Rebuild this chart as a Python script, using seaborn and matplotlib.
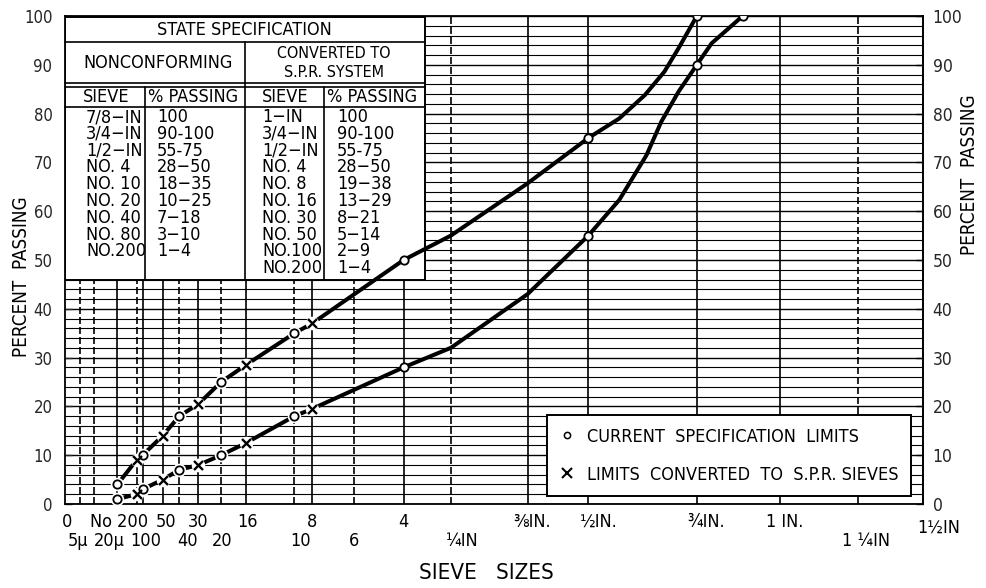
import numpy as np
import pandas as pd
import matplotlib
matplotlib.use("Agg")
import matplotlib.pyplot as plt
import seaborn as sns
from matplotlib import font_manager as fm
from matplotlib.lines import Line2D
from matplotlib.patches import Rectangle
from matplotlib.ticker import MultipleLocator, NullLocator

# ---------------- data ----------------
# sieve openings in mm; chart x-axis is a 0.45-power scale
solid_sieves_mm = [0.075, 0.18, 0.3, 0.6, 1.18, 2.36, 4.75, 9.5, 12.5, 19.0, 25.0]
dashed_sieves_mm = [0.005, 0.02, 0.15, 0.425, 0.85, 2.0, 3.35, 6.35, 31.5]

row1_pos_mm = [0, 0.075, 0.3, 0.6, 1.18, 2.36, 4.75, 9.5, 12.5, 19.0, 25.0, 37.5]
row1_labels = ["0", "No 200", "50", "30", "16", "8", "4", "⅜IN.", "½IN.", "¾IN.", "1 IN.", "1½IN"]
row2_pos_mm = [0.005, 0.02, 0.15, 0.425, 0.85, 2.0, 3.35, 6.35, 31.5]
row2_labels = ["5μ", "20μ", "100", "40", "20", "10", "6", "¼IN", "1 ¼IN"]

# current specification limits (circles)
cur_upper_mm = [0.075, 0.18, 0.425, 0.85, 2.0, 4.75, 12.5, 19.0]
cur_upper = [4, 10, 18, 25, 35, 50, 75, 100]
cur_lower_mm = [0.075, 0.18, 0.425, 0.85, 2.0, 4.75, 12.5, 19.0, 22.2]
cur_lower = [1, 3, 7, 10, 18, 28, 55, 90, 100]

# limits converted to S.P.R. sieves (X marks)
spr_mm = [0.15, 0.3, 0.6, 1.18, 2.36]
spr_upper = [9, 14, 20.5, 28.5, 37]
spr_lower = [2, 5, 8, 12.5, 19.5]

# further points along the drawn curves
trace_upper_mm = [6.35, 9.5, 14.2, 15.7, 16.9, 17.8]
trace_upper = [55, 65.7, 79, 83.8, 88.6, 93.4]
trace_lower_mm = [6.35, 9.5, 14.2, 15.8, 16.7, 17.8, 20.0]
trace_lower = [32, 43, 62.3, 71.5, 78.3, 84.5, 94.4]

# table text
table_title = "STATE SPECIFICATION"
group_left = "NONCONFORMING"
group_right = ["CONVERTED TO", "S.P.R. SYSTEM"]
col_headers = ["SIEVE", "% PASSING", "SIEVE", "% PASSING"]
nc_sieves = ["7/8−IN", "3/4−IN", "1/2−IN", "NO. 4", "NO. 10", "NO. 20", "NO. 40", "NO. 80", "NO.200"]
nc_passing = ["100", "90-100", "55-75", "28−50", "18−35", "10−25", "7−18", "3−10", "1−4"]
spr_sieves = ["1−IN", "3/4−IN", "1/2−IN", "NO. 4", "NO. 8", "NO. 16", "NO. 30", "NO. 50", "NO.100", "NO.200"]
spr_passing = ["100", "90-100", "55-75", "28−50", "19−38", "13−29", "8−21", "5−14", "2−9", "1−4"]

legend_labels = ["CURRENT  SPECIFICATION  LIMITS", "LIMITS  CONVERTED  TO  S.P.R. SIEVES"]
x_title = "SIEVE   SIZES"
y_title = "PERCENT  PASSING"

# ---------------- style / fonts ----------------
sns.set_style("white")
ttf = fm.fontManager.ttflist
names = {f.name for f in ttf}
stretch = "normal"
if "Liberation Sans Narrow" in names:
    FONT, k = "Liberation Sans Narrow", 1.0
elif any(f.name == "DejaVu Sans" and "condensed" in str(f.stretch) for f in ttf):
    FONT, k, stretch = "DejaVu Sans", 1.0, "condensed"
else:
    FONT, k = "DejaVu Sans", 0.85
plt.rcParams["font.family"] = [FONT, "DejaVu Sans"]
plt.rcParams["font.stretch"] = stretch
plt.rcParams["text.color"] = "black"

W, H = 987, 588
L, R, B, T = 65, 923, 504, 16
fig = plt.figure(figsize=(W / 100, H / 100), dpi=100)
ax = fig.add_axes([L / W, 1 - B / H, (R - L) / W, (B - T) / H])


def fwd(x):
    return np.power(np.clip(x, 0, None), 0.45)


def inv(u):
    return np.power(np.clip(u, 0, None), 1 / 0.45)


ax.set_xscale("function", functions=(fwd, inv))
ax.set_xlim(0, 37.5)
ax.set_ylim(0, 100)
ax.set_xticks([])
ax.xaxis.set_minor_locator(NullLocator())
ax.yaxis.set_major_locator(MultipleLocator(10))
ax.yaxis.set_minor_locator(MultipleLocator(2))
ax.set_axisbelow(True)
ax.grid(axis="y", which="major", color="black", lw=1.0)
ax.grid(axis="y", which="minor", color="black", lw=0.8)
ax.tick_params(axis="y", which="major", direction="in", length=5, width=1,
               pad=9, labelsize=12 * k, left=True, right=False)
ax.tick_params(axis="y", which="minor", length=0)
for sp in ax.spines.values():
    sp.set_visible(True)
    sp.set_color("black")
    sp.set_linewidth(1.3)

sec = ax.secondary_yaxis("right")
sec.set_yticks(list(range(0, 101, 10)))
sec.tick_params(direction="in", length=5, width=1, pad=7, labelsize=12.5 * k)
sec.spines["right"].set_linewidth(1.3)

for x in solid_sieves_mm:
    ax.axvline(x, color="black", lw=1.2, zorder=1.5)
for x in dashed_sieves_mm:
    ax.axvline(x, color="black", lw=1.2, ls=(0, (4.2, 1.8)), zorder=1.5)


# ---------------- table ----------------
def P(px, py):
    return ((px - L) / (R - L), (B - py) / (B - T))


def hline(py, x0, x1, lw=1.2):
    a, b = P(x0, py), P(x1, py)
    ax.plot([a[0], b[0]], [a[1], b[1]], color="black", lw=lw,
            transform=ax.transAxes, zorder=2.6, clip_on=False)


def vline(px, y0, y1, lw=1.2):
    a, b = P(px, y0), P(px, y1)
    ax.plot([a[0], b[0]], [a[1], b[1]], color="black", lw=lw,
            transform=ax.transAxes, zorder=2.6, clip_on=False)


def txt(px, py, s, ha="center", size=13):
    ax.text(*P(px, py), s, ha=ha, va="center", fontsize=size * k,
            transform=ax.transAxes, zorder=2.7)


tx0, tx1, ty0, ty1 = 65, 425, 17, 280
x0, y0 = P(tx0, ty1)
x1, y1 = P(tx1, ty0)
ax.add_patch(Rectangle((x0, y0), x1 - x0, y1 - y0, transform=ax.transAxes,
                       facecolor="white", edgecolor="black", lw=1.4, zorder=2.5))
hline(42, tx0, tx1)
hline(83, tx0, tx1)
hline(87, tx0, tx1)
hline(107, tx0, tx1)
vline(245, 42, ty1)
vline(145, 87, ty1)
vline(324, 87, ty1)

txt(244, 30, table_title)
txt(158, 63, group_left)
txt(334, 53, group_right[0], size=11.5)
txt(334, 72.5, group_right[1], size=11.5)
for cx, h in zip([106, 193, 285, 372], col_headers):
    txt(cx, 97, h)
rows_y = [117 + 16.8 * i for i in range(10)]
for i, (s, p) in enumerate(zip(nc_sieves, nc_passing)):
    txt(86, rows_y[i], s, ha="left")
    txt(157, rows_y[i], p, ha="left")
for i, (s, p) in enumerate(zip(spr_sieves, spr_passing)):
    txt(262, rows_y[i], s, ha="left")
    txt(337, rows_y[i], p, ha="left")

# ---------------- curves ----------------
up = pd.DataFrame({"size": cur_upper_mm + spr_mm + trace_upper_mm,
                   "pct": cur_upper + spr_upper + trace_upper}).sort_values("size")
lo = pd.DataFrame({"size": cur_lower_mm + spr_mm + trace_lower_mm,
                   "pct": cur_lower + spr_lower + trace_lower}).sort_values("size")
for df in (up, lo):
    sns.lineplot(data=df, x="size", y="pct", ax=ax, color="black", lw=2.9,
                 estimator=None, sort=True, zorder=3, legend=False)

# white gaps around the marks on the fine end
halo_x = [x for x in cur_upper_mm if x < 3] + [x for x in cur_lower_mm if x < 3] + spr_mm * 2
halo_y = [y for x, y in zip(cur_upper_mm, cur_upper) if x < 3] + \
         [y for x, y in zip(cur_lower_mm, cur_lower) if x < 3] + spr_upper + spr_lower
sns.scatterplot(x=halo_x, y=halo_y, ax=ax, s=95, color="white", edgecolor="white",
                linewidth=0, zorder=3.5, legend=False)

sns.scatterplot(x=cur_upper_mm + cur_lower_mm, y=cur_upper + cur_lower, ax=ax,
                marker="o", s=36, color="white", edgecolor="black", linewidth=1.3,
                zorder=4, legend=False)
sns.scatterplot(x=spr_mm * 2, y=spr_upper + spr_lower, ax=ax, marker="x", s=42,
                color="black", linewidth=1.7, zorder=4, legend=False)
ax.set_xlim(0, 37.5)
ax.set_ylim(0, 100)
ax.set_xlabel("")
ax.set_ylabel("")

# ---------------- x labels ----------------
row1_dx = [2, 2, 3, 0, 2, 0, 0, 5, 10, 9, 5, 16]
row1_dy = [-18] * 11 + [-24]
row2_dx = [-2, 15, 9, 8, 1, 6, 0, 11, 8]
for pos, lab, dx, dy in zip(row1_pos_mm, row1_labels, row1_dx, row1_dy):
    ax.annotate(lab, xy=(pos, 0), xycoords=("data", "axes fraction"), xytext=(dx, dy),
                textcoords="offset pixels", ha="center", va="center", fontsize=13 * k,
                annotation_clip=False)
for pos, lab, dx in zip(row2_pos_mm, row2_labels, row2_dx):
    ax.annotate(lab, xy=(pos, 0), xycoords=("data", "axes fraction"), xytext=(dx, -37),
                textcoords="offset pixels", ha="center", va="center", fontsize=13 * k,
                annotation_clip=False)

fig.text(486 / W, 1 - 573 / H, x_title, ha="center", va="center", fontsize=16 * k)
fig.text(22 / W, 1 - 277 / H, y_title, ha="center", va="center", rotation=90, fontsize=13.5 * k)
fig.text(970 / W, 1 - 175 / H, y_title, ha="center", va="center", rotation=90, fontsize=13.5 * k)

# ---------------- legend ----------------
handles = [Line2D([], [], ls="", marker="o", ms=4.5, mfc="white", mec="black", mew=1.1),
           Line2D([], [], ls="", marker="x", ms=6.5, color="black", mew=1.5)]
leg = ax.legend(handles=handles, labels=legend_labels, loc="upper left",
                bbox_to_anchor=P(547, 415), borderaxespad=0, frameon=True,
                fancybox=False, edgecolor="black", framealpha=1, fontsize=13 * k,
                handlelength=0.8, handletextpad=0.7, borderpad=0.7, labelspacing=1.1)
leg.get_frame().set_linewidth(1.4)
leg.set_zorder(6)

fig.savefig("out.png", dpi=100, facecolor="white")
